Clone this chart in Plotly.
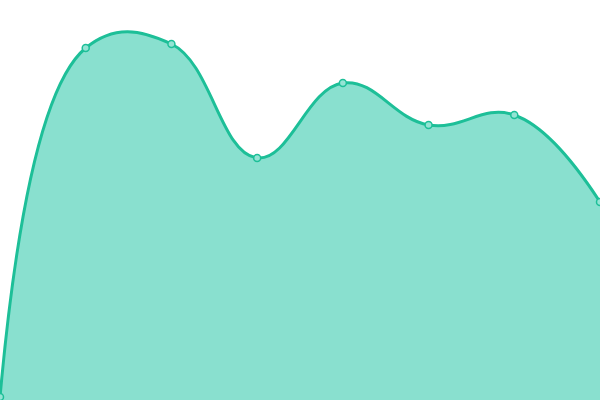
import plotly.graph_objects as go

x_vals = [0, 1, 2, 3, 4, 5, 6, 7]
y_vals = [3, 352, 356, 242, 317, 275, 285, 198]

fig = go.Figure()
fig.add_trace(go.Scatter(
    x=x_vals, y=y_vals,
    mode="lines+markers",
    line=dict(color="#1dbf98", width=3, shape="spline", smoothing=1.2),
    marker=dict(size=7, color="#94e4d4", line=dict(color="#1dbf98", width=1.5)),
    fill="tozeroy",
    fillcolor="#89e0cf",
    cliponaxis=False,
))
fig.update_layout(
    width=600, height=400,
    margin=dict(l=0, r=0, t=0, b=0),
    paper_bgcolor="white", plot_bgcolor="white",
    showlegend=False,
    xaxis=dict(range=[0, 7], visible=False, fixedrange=True),
    yaxis=dict(range=[0, 400], visible=False, fixedrange=True),
)
fig.write_html(
    "out.html",
    config={"displayModeBar": False},
    post_script="document.body.style.margin='0';document.body.style.overflow='hidden';",
)
